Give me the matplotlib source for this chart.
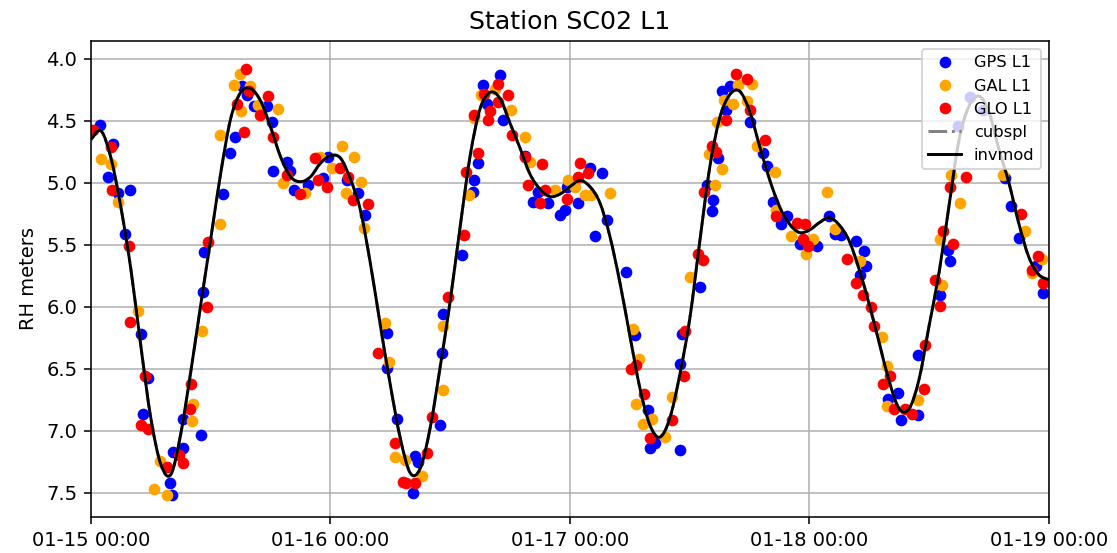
import numpy as np
import pandas as pd
import matplotlib
matplotlib.use('Agg')
import matplotlib.pyplot as plt
import matplotlib.dates as mdates
from matplotlib.path import Path
from matplotlib.patches import PathPatch

# hours since 2024-01-15 00:00, reflector height in meters
gps_h = [0.90, 1.67, 2.24, 2.74, 3.41, 3.91, 5.01, 5.24, 5.68, 7.92, 8.15, 8.25, 9.18, 9.25,
         11.02, 11.25, 11.35, 13.26, 13.93, 14.43, 15.10, 15.60, 16.36, 17.60, 18.10, 18.27,
         19.60, 19.90, 20.37, 21.77, 23.28, 23.78, 25.62, 26.79, 27.45, 29.63, 29.63, 30.63,
         32.30, 32.46, 32.80, 34.97, 35.14, 35.31, 37.21, 38.31, 38.41, 38.81, 39.31, 39.65,
         40.98, 41.31, 43.49, 44.32, 44.82, 45.82, 46.99, 47.49, 47.66, 48.83, 50.00, 50.50,
         51.23, 51.67, 53.58, 54.51, 55.84, 56.00, 56.51, 59.02, 59.02, 59.19, 61.02, 61.69,
         62.20, 62.36, 62.86, 63.26, 63.69, 64.02, 66.03, 67.37, 67.70, 68.37, 69.20, 69.71,
         71.04, 72.81, 73.95, 74.55, 75.15, 76.72, 77.05, 77.49, 77.65, 79.83, 80.89, 81.16,
         82.90, 82.90, 85.07, 85.90, 86.07, 86.90, 88.08, 89.41, 91.58, 92.18, 92.98, 94.76,
         95.42]
gps_rh = [4.53, 4.95, 4.69, 5.08, 5.41, 5.06, 6.22, 6.86, 6.57, 7.42, 7.52, 7.17, 7.14, 6.90,
          7.03, 5.88, 5.56, 5.09, 4.76, 4.63, 4.22, 4.29, 4.38, 4.38, 4.51, 4.90,
          4.83, 4.90, 5.06, 5.02, 4.96, 4.79, 4.98, 5.08, 5.26, 6.21, 6.49, 6.90,
          7.50, 7.20, 7.25, 6.95, 6.37, 6.06, 5.58, 5.07, 4.98, 4.84, 4.21, 4.36,
          4.13, 4.49, 4.78, 5.15, 5.07, 5.16, 5.26, 5.22, 5.03, 5.16, 4.88, 5.43,
          4.92, 5.30, 5.72, 6.23, 6.83, 7.14, 7.10, 7.15, 6.46, 6.22, 5.84, 5.02,
          5.23, 5.14, 4.80, 4.26, 4.41, 4.22, 4.51, 4.76, 4.86, 5.15, 5.33, 5.27,
          5.49, 5.51, 5.27, 5.41, 5.42, 5.47, 5.74, 5.55, 5.67, 6.74, 6.69, 6.91,
          6.87, 6.39, 5.90, 5.54, 5.63, 4.54, 4.31, 4.41, 4.96, 5.19, 5.44, 5.67,
          5.89]

gal_h = [1.00, 2.00, 2.67, 4.68, 6.35, 6.91, 7.58, 10.09, 10.25, 11.09, 12.93, 12.93, 14.36,
         14.93, 15.03, 15.93, 16.76, 18.77, 19.27, 21.44, 22.95, 24.12, 25.12, 25.52, 26.38,
         27.10, 27.39, 29.46, 29.86, 30.46, 31.46, 33.13, 35.31, 35.31, 37.88, 38.41, 39.08,
         40.48, 42.08, 43.49, 43.99, 46.49, 47.76, 48.50, 49.50, 50.10, 52.00, 54.34, 54.58,
         54.90, 55.35, 56.25, 57.52, 58.25, 60.02, 61.92, 62.53, 62.69, 63.20, 63.46, 64.36,
         64.86, 65.70, 66.20, 66.70, 68.60, 68.70, 70.20, 71.70, 72.38, 73.81, 74.55, 77.05,
         79.23, 79.73, 79.73, 82.90, 85.07, 85.24, 86.24, 87.07, 91.40, 93.60, 94.27, 95.27]
gal_rh = [4.81, 4.85, 5.15, 6.03, 7.47, 7.24, 7.52, 6.92, 6.78, 6.19, 4.61, 5.33, 4.21,
          4.12, 4.42, 4.22, 4.37, 4.40, 5.00, 5.08, 4.79, 4.88, 4.70, 5.08, 4.79,
          4.99, 5.36, 6.13, 6.44, 7.21, 7.23, 7.36, 6.15, 6.67, 5.10, 4.48, 4.29,
          4.24, 4.41, 4.63, 4.83, 5.06, 4.98, 5.03, 5.10, 5.10, 5.08, 6.18, 6.78,
          6.42, 6.94, 6.90, 7.05, 6.73, 5.76, 4.77, 5.02, 4.51, 4.89, 4.33, 4.36,
          4.21, 4.34, 4.20, 4.70, 4.91, 5.22, 5.43, 5.57, 5.45, 5.07, 5.37, 5.63,
          6.24, 6.48, 6.80, 6.75, 5.45, 5.82, 4.94, 5.16, 4.94, 5.39, 5.73, 5.61]

glo_h = [0.23, 2.00, 2.07, 3.84, 3.91, 5.01, 5.41, 5.68, 7.58, 8.85, 9.18, 9.92, 10.02, 11.59,
         11.69, 14.60, 15.36, 15.53, 15.86, 16.93, 17.77, 18.27, 19.60, 20.94, 22.44, 22.78,
         23.61, 24.95, 25.78, 26.28, 27.72, 28.79, 30.46, 31.29, 31.60, 32.46, 33.63, 34.13,
         35.74, 37.41, 37.54, 38.41, 38.74, 39.41, 39.75, 39.98, 40.75, 40.81, 41.75, 42.15,
         43.49, 43.76, 44.99, 45.16, 45.49, 47.66, 48.77, 49.00, 49.77, 54.11, 54.58, 55.44,
         56.00, 58.18, 59.45, 59.52, 60.85, 61.35, 61.46, 62.26, 62.59, 63.69, 64.69, 65.70,
         66.03, 67.54, 68.70, 70.71, 71.38, 71.54, 71.81, 75.72, 76.72, 77.39, 78.22, 78.50,
         79.33, 80.08, 80.50, 81.57, 82.24, 83.50, 83.57, 84.57, 85.07, 85.40, 86.07, 86.41,
         87.74, 93.25, 94.27, 94.93, 95.42]
glo_rh = [4.57, 4.71, 5.06, 5.51, 6.12, 6.95, 6.56, 6.98, 7.29, 7.19, 7.26, 6.82, 6.62, 6.00,
          5.48, 4.36, 4.59, 4.08, 4.26, 4.45, 4.30, 4.63, 4.94, 5.09, 4.80, 4.98,
          5.03, 4.88, 4.95, 5.14, 5.17, 6.37, 7.10, 7.41, 7.42, 7.42, 7.18, 6.89,
          5.92, 5.42, 4.91, 4.45, 4.76, 4.28, 4.49, 4.42, 4.35, 4.20, 4.29, 4.61,
          4.79, 5.02, 5.16, 4.85, 5.06, 5.13, 4.95, 4.84, 4.92, 6.50, 6.47, 6.70,
          7.06, 6.91, 6.56, 6.19, 5.57, 5.62, 5.07, 4.70, 4.75, 4.49, 4.12, 4.16,
          4.41, 4.65, 5.27, 5.32, 5.45, 5.33, 5.51, 5.61, 5.81, 5.90, 6.00, 6.15,
          6.62, 6.56, 6.82, 6.82, 6.86, 6.66, 6.31, 5.78, 5.99, 5.39, 5.03, 5.49,
          4.95, 5.25, 5.70, 5.59, 5.81]

# model curve, one value per hour
model_h = list(range(97))
invmod = [4.65, 4.58, 4.80, 5.20, 5.70, 6.32, 6.90, 7.27, 7.35, 7.02, 6.52, 5.98, 5.45, 4.92,
          4.48, 4.27, 4.24, 4.34, 4.55, 4.79, 4.95, 4.99, 4.95, 4.84, 4.78, 4.80, 4.97, 5.22,
          5.65, 6.15, 6.63, 7.06, 7.34, 7.30, 6.97, 6.48, 5.95, 5.35, 4.78, 4.40, 4.27, 4.32,
          4.52, 4.72, 4.93, 5.05, 5.11, 5.09, 5.03, 4.98, 5.03, 5.16, 5.43, 5.80, 6.23, 6.65,
          6.95, 7.05, 6.90, 6.55, 6.10, 5.48, 4.88, 4.48, 4.29, 4.26, 4.42, 4.70, 4.97, 5.19,
          5.33, 5.40, 5.38, 5.32, 5.28, 5.34, 5.47, 5.70, 5.98, 6.29, 6.60, 6.82, 6.82, 6.58,
          6.15, 5.72, 5.18, 4.65, 4.38, 4.30, 4.43, 4.73, 5.00, 5.33, 5.60, 5.74, 5.78]
cubspl = invmod

t0 = pd.Timestamp('2024-01-15 00:00')


def to_time(hours):
    return t0 + pd.to_timedelta(np.array(hours), unit='h')


def smooth_path(hours, values):
    # draw the hourly values as one smooth curve (Catmull-Rom as bezier segments)
    x = mdates.date2num(to_time(hours))
    y = np.array(values, dtype=float)
    px = np.concatenate([[x[0]], x, [x[-1]]])
    py = np.concatenate([[y[0]], y, [y[-1]]])
    verts = [(x[0], y[0])]
    codes = [Path.MOVETO]
    for i in range(1, len(x)):
        c1 = (px[i] + (px[i + 1] - px[i - 1]) / 6, py[i] + (py[i + 1] - py[i - 1]) / 6)
        c2 = (px[i + 1] - (px[i + 2] - px[i]) / 6, py[i + 1] - (py[i + 2] - py[i]) / 6)
        verts += [c1, c2, (px[i + 1], py[i + 1])]
        codes += [Path.CURVE4] * 3
    return Path(verts, codes)


fig, ax = plt.subplots(figsize=(1117 / 140, 553 / 140), dpi=140)
fig.subplots_adjust(left=0.0815, right=0.939, top=0.926, bottom=0.065)

ax.plot(to_time(gps_h), gps_rh, 'o', color='blue', ms=5, label='GPS L1')
ax.plot(to_time(gal_h), gal_rh, 'o', color='orange', ms=5, label='GAL L1')
ax.plot(to_time(glo_h), glo_rh, 'o', color='red', ms=5, label='GLO L1')

# line handles for the legend, the curves themselves are drawn as paths
ax.plot([], [], '-.', color='gray', lw=1.5, label='cubspl')
ax.plot([], [], '-', color='black', lw=1.5, label='invmod')
ax.add_patch(PathPatch(smooth_path(model_h, cubspl), fill=False, edgecolor='gray',
                       lw=1.5, linestyle='-.', zorder=2.5))
ax.add_patch(PathPatch(smooth_path(model_h, invmod), fill=False, edgecolor='black',
                       lw=1.5, zorder=2.6))

ax.set_xlim(t0, t0 + pd.Timedelta(days=4))
ax.set_ylim(7.694, 3.855)
ax.xaxis.set_major_locator(mdates.DayLocator())
ax.xaxis.set_major_formatter(mdates.DateFormatter('%m-%d %H:%M'))
ax.grid(True)
ax.set_ylabel('RH meters')
ax.set_title('Station SC02 L1', fontsize=13)
ax.legend(loc='upper right', fontsize='small')

fig.savefig('out.png', dpi=140)
